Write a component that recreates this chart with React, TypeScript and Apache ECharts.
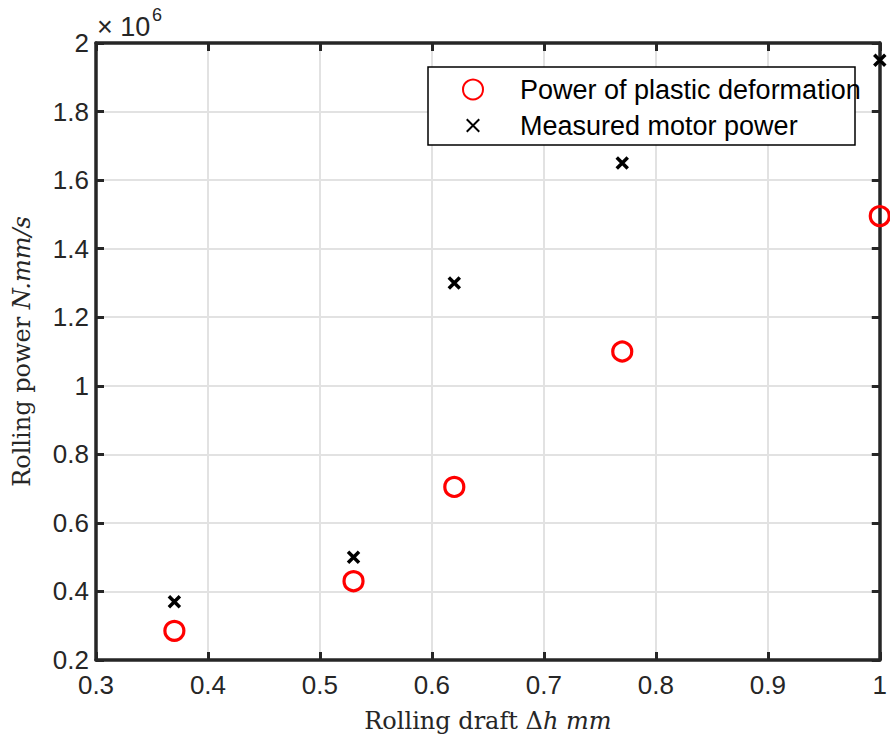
import React, { useEffect, useRef } from "react";
import * as echarts from "echarts";

const draftMm = [0.37, 0.53, 0.62, 0.77, 1.0];
const plasticPower = [0.285, 0.43, 0.705, 1.1, 1.495];
const motorPower = [0.37, 0.5, 1.3, 1.65, 1.95];
const seriesNames = ["Power of plastic deformation", "Measured motor power"];

const CROSS = "path://M0 0L10 10M10 0L0 10";
const CROSS_LEGEND = "path://M-3 -3M0 0L10 10M10 0L0 10M13 13";

export default function App() {
  const ref = useRef<HTMLDivElement>(null);
  useEffect(() => {
    if (!ref.current) return;
    const chart = echarts.init(ref.current, undefined, { renderer: "svg" });
    const axisColor = "#262626";
    const tickFont = { color: axisColor, fontSize: 26, fontFamily: "Liberation Sans, Arial, sans-serif" };
    const serif = "DejaVu Serif, serif";
    const boxAxisCommon = {
      type: "value" as const,
      axisLine: { show: true, onZero: false, lineStyle: { color: axisColor, width: 3.5 } },
      axisTick: { show: true, inside: true, length: 8, lineStyle: { color: axisColor, width: 3 } },
      axisLabel: { show: false },
      splitLine: { show: false },
    };
    chart.setOption({
      animation: false,
      backgroundColor: "#ffffff",
      grid: { left: 96, right: 10, top: 43, bottom: 78, containLabel: false },
      xAxis: [
        {
          type: "value",
          min: 0.3,
          max: 1,
          interval: 0.1,
          position: "bottom",
          axisLine: { show: true, onZero: false, lineStyle: { color: axisColor, width: 3.5 } },
          axisTick: { show: true, inside: true, length: 8, lineStyle: { color: axisColor, width: 3 } },
          axisLabel: { ...tickFont, margin: 12 },
          splitLine: { show: true, showMinLine: false, showMaxLine: false, lineStyle: { color: "#e2e2e2", width: 2 } },
          name: "{a|Rolling draft }{b|Δ}{c|h mm}",
          nameLocation: "middle",
          nameGap: 49,
          nameTextStyle: {
            rich: {
              a: { fontFamily: serif, fontSize: 24, color: axisColor },
              b: { fontFamily: serif, fontSize: 24, color: axisColor },
              c: { fontFamily: serif, fontSize: 24, fontStyle: "italic", color: axisColor },
            },
          },
        },
        { ...boxAxisCommon, min: 0.3, max: 1, interval: 0.1, position: "top" },
      ],
      yAxis: [
        {
          type: "value",
          min: 0.2,
          max: 2,
          interval: 0.2,
          position: "left",
          axisLine: { show: true, onZero: false, lineStyle: { color: axisColor, width: 3.5 } },
          axisTick: { show: true, inside: true, length: 8, lineStyle: { color: axisColor, width: 3 } },
          axisLabel: { ...tickFont, margin: 7 },
          splitLine: { show: true, showMinLine: false, showMaxLine: false, lineStyle: { color: "#e2e2e2", width: 2 } },
          name: "{a|Rolling power }{c|N.mm/s}",
          nameLocation: "middle",
          nameGap: 62,
          nameTextStyle: {
            rich: {
              a: { fontFamily: serif, fontSize: 24, color: axisColor },
              c: { fontFamily: serif, fontSize: 24, fontStyle: "italic", color: axisColor },
            },
          },
        },
        { ...boxAxisCommon, min: 0.2, max: 2, interval: 0.2, position: "right" },
      ],
      legend: {
        orient: "vertical",
        left: 462,
        top: 76,
        padding: 0,
        itemWidth: 20,
        itemHeight: 20,
        itemGap: 9,
        textStyle: { fontSize: 27, fontFamily: "Liberation Sans, Arial, sans-serif", color: "#000", padding: [0, 0, 0, 32] },
        data: [
          { name: seriesNames[0], icon: "circle" },
          { name: seriesNames[1], icon: CROSS_LEGEND },
        ],
      },
      graphic: [
        {
          type: "rect",
          z: 3,
          shape: { x: 428, y: 67, width: 427, height: 78 },
          style: { fill: "#ffffff", stroke: "#000000", lineWidth: 1.5 },
        },
        {
          type: "text",
          z: 3,
          x: 97,
          y: 27,
          style: { text: "× 10", font: "27px Liberation Sans, Arial, sans-serif", fill: axisColor, verticalAlign: "middle" },
        },
        {
          type: "text",
          z: 3,
          x: 152,
          y: 15,
          style: { text: "6", font: "18px Liberation Sans, Arial, sans-serif", fill: axisColor, verticalAlign: "middle" },
        },
      ],
      series: [
        {
          name: seriesNames[0],
          type: "scatter",
          clip: false,
          symbol: "circle",
          symbolSize: 19,
          itemStyle: { color: "transparent", borderColor: "#ff0000", borderWidth: 3.2, opacity: 1 },
          data: draftMm.map((x, i) => [x, plasticPower[i]]),
          z: 5,
        },
        {
          name: seriesNames[1],
          type: "scatter",
          clip: false,
          symbol: CROSS,
          symbolSize: 11,
          itemStyle: { color: "#000000", borderColor: "#000000", borderWidth: 3.5, opacity: 1 },
          data: draftMm.map((x, i) => [x, motorPower[i]]),
          z: 5,
        },
      ],
    });
    return () => chart.dispose();
  }, []);
  return <div ref={ref} style={{ width: 890, height: 738, position: "absolute", left: 0, top: 0 }} />;
}
